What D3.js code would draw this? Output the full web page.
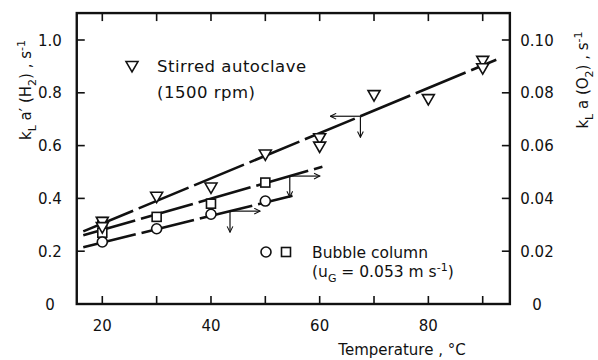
<!DOCTYPE html>
<html>
<head>
<meta charset="utf-8">
<script src="https://cdn.jsdelivr.net/npm/d3@7"></script>
<style>
  body { margin: 0; background: #fff; }
  svg text { font-family: "DejaVu Sans", sans-serif; fill: #111; }
</style>
</head>
<body>
<div id="chart"></div>
<script>
// stirred autoclave, kLa'(H2) in s^-1 (left axis)
const autoTemp = [20, 20, 30, 40, 50, 60, 60, 70, 80, 90, 90];
const autoKla = [0.315, 0.295, 0.41, 0.445, 0.57, 0.632, 0.60, 0.795, 0.78, 0.925, 0.897];
// bubble column, kLa(O2) in s^-1 (right axis)
const squareTemp = [20, 20, 30, 40, 50];
const squareKla = [0.031, 0.027, 0.033, 0.038, 0.046];
const circleTemp = [20, 30, 40, 50];
const circleKla = [0.0235, 0.0285, 0.034, 0.039];
// fitted lines (end points)
const autoFitTemp = [16.5, 92.5];
const autoFitKla = [0.275, 0.925];
const squareFitTemp = [16.5, 60.5];
const squareFitKla = [0.026, 0.052];
const circleFitTemp = [16.5, 55];
const circleFitKla = [0.0215, 0.041];
// ticks
const xTicks = [20, 30, 40, 50, 60, 70, 80, 90];
const xLabels = [20, 40, 60, 80];
const leftTicks = [0, 0.2, 0.4, 0.6, 0.8, 1.0];
const rightTicks = [0, 0.02, 0.04, 0.06, 0.08, 0.10];

var width = 598, height = 360;
var svg = d3.select("#chart").append("svg")
    .attr("width", width)
    .attr("height", height);

var x = d3.scaleLinear().domain([20, 90]).range([102.3, 482.7]);
var yL = d3.scaleLinear().domain([0, 1]).range([304, 40]);
var yR = d3.scaleLinear().domain([0, 0.1]).range([304, 40]);

var frameL = x(15.3), frameR = x(95), frameT = yL(1.102), frameB = yL(0);

// arrow head
svg.append("defs").append("marker")
    .attr("id", "head")
    .attr("viewBox", "0 0 10 10")
    .attr("refX", 9).attr("refY", 5)
    .attr("markerWidth", 6).attr("markerHeight", 6)
    .attr("orient", "auto")
    .append("path")
    .attr("d", "M1,1 L9,5 L1,9")
    .attr("fill", "none")
    .attr("stroke", "#111")
    .attr("stroke-width", 1.5);

// frame
svg.append("rect")
    .attr("x", frameL).attr("y", frameT)
    .attr("width", frameR - frameL).attr("height", frameB - frameT)
    .attr("fill", "none").attr("stroke", "#111").attr("stroke-width", 2.4);

var tickLen = 8;
var g = svg.append("g").attr("stroke", "#111").attr("stroke-width", 1.6);
xTicks.forEach(function(t) {
    g.append("line").attr("x1", x(t)).attr("x2", x(t)).attr("y1", frameB).attr("y2", frameB - tickLen);
    g.append("line").attr("x1", x(t)).attr("x2", x(t)).attr("y1", frameT).attr("y2", frameT + tickLen);
});
leftTicks.forEach(function(t) {
    g.append("line").attr("x1", frameL).attr("x2", frameL + tickLen).attr("y1", yL(t)).attr("y2", yL(t));
});
rightTicks.forEach(function(t) {
    g.append("line").attr("x1", frameR).attr("x2", frameR - tickLen).attr("y1", yR(t)).attr("y2", yR(t));
});

svg.selectAll(".xl").data(xLabels).enter().append("text")
    .attr("x", d => x(d)).attr("y", 331)
    .attr("text-anchor", "middle").attr("font-size", 15)
    .text(d => d);
svg.selectAll(".yl").data(leftTicks).enter().append("text")
    .attr("x", 50).attr("y", d => yL(d) + 5.5)
    .attr("text-anchor", "middle").attr("font-size", 15)
    .text(d => d === 0 ? "0" : d.toFixed(1));
svg.selectAll(".yr").data(rightTicks).enter().append("text")
    .attr("x", 537).attr("y", d => yR(d) + 5.5)
    .attr("text-anchor", "middle").attr("font-size", 15)
    .text(d => d === 0 ? "0" : d.toFixed(2));

// axis titles
svg.append("text")
    .attr("x", 402).attr("y", 355)
    .attr("text-anchor", "middle").attr("font-size", 15)
    .text("Temperature , °C");

var lt = svg.append("text")
    .attr("transform", "translate(31,90) rotate(-90)")
    .attr("text-anchor", "middle").attr("font-size", 15);
lt.append("tspan").text("k");
lt.append("tspan").attr("dy", 5).attr("font-size", 11).text("L");
lt.append("tspan").attr("dy", -5).text(" a′ (H");
lt.append("tspan").attr("dy", 5).attr("font-size", 11).text("2");
lt.append("tspan").attr("dy", -5).text(") , s");
lt.append("tspan").attr("dy", -6).attr("font-size", 11).text("-1");

var rt = svg.append("text")
    .attr("transform", "translate(588,80) rotate(-90)")
    .attr("text-anchor", "middle").attr("font-size", 15);
rt.append("tspan").text("k");
rt.append("tspan").attr("dy", 5).attr("font-size", 11).text("L");
rt.append("tspan").attr("dy", -5).text(" a (O");
rt.append("tspan").attr("dy", 5).attr("font-size", 11).text("2");
rt.append("tspan").attr("dy", -5).text(") , s");
rt.append("tspan").attr("dy", -6).attr("font-size", 11).text("-1");

// fitted lines
var lineL = d3.line().x(d => x(d[0])).y(d => yL(d[1]));
var lineR = d3.line().x(d => x(d[0])).y(d => yR(d[1]));
function fitLine(gen, ts, vs) {
    svg.append("path")
        .attr("d", gen(d3.zip(ts, vs)))
        .attr("fill", "none").attr("stroke", "#111")
        .attr("stroke-width", 2.6)
        .attr("stroke-dasharray", "54,6");
}
fitLine(lineL, autoFitTemp, autoFitKla);
fitLine(lineR, squareFitTemp, squareFitKla);
fitLine(lineR, circleFitTemp, circleFitKla);

// arrows: from a point on each line, one toward its axis, one down to temperature
function arrows(tx, v, yScale, dir) {
    var px = x(tx), py = yScale(v);
    svg.append("line").attr("x1", px).attr("y1", py).attr("x2", px + dir * 30).attr("y2", py)
        .attr("stroke", "#111").attr("stroke-width", 1.2).attr("marker-end", "url(#head)");
    svg.append("line").attr("x1", px).attr("y1", py).attr("x2", px).attr("y2", py + 21)
        .attr("stroke", "#111").attr("stroke-width", 1.2).attr("marker-end", "url(#head)");
}
var slopeA = (autoFitKla[1] - autoFitKla[0]) / (autoFitTemp[1] - autoFitTemp[0]);
var slopeS = (squareFitKla[1] - squareFitKla[0]) / (squareFitTemp[1] - squareFitTemp[0]);
var slopeC = (circleFitKla[1] - circleFitKla[0]) / (circleFitTemp[1] - circleFitTemp[0]);
arrows(67.5, autoFitKla[0] + (67.5 - autoFitTemp[0]) * slopeA, yL, -1);
arrows(54.5, squareFitKla[0] + (54.5 - squareFitTemp[0]) * slopeS, yR, 1);
arrows(43.5, circleFitKla[0] + (43.5 - circleFitTemp[0]) * slopeC, yR, 1);

// markers
var tri = d3.symbol().type(d3.symbolTriangle).size(62);
function triangle(sel) {
    sel.attr("d", tri).attr("fill", "#fff").attr("stroke", "#111").attr("stroke-width", 1.6);
}
svg.selectAll(".sq").data(d3.zip(squareTemp, squareKla)).enter().append("rect")
    .attr("x", d => x(d[0]) - 4.5).attr("y", d => yR(d[1]) - 4.5)
    .attr("width", 9).attr("height", 9)
    .attr("fill", "#fff").attr("stroke", "#111").attr("stroke-width", 1.6);
svg.selectAll(".ci").data(d3.zip(circleTemp, circleKla)).enter().append("circle")
    .attr("cx", d => x(d[0])).attr("cy", d => yR(d[1])).attr("r", 5)
    .attr("fill", "#fff").attr("stroke", "#111").attr("stroke-width", 1.6);
svg.selectAll(".tr").data(d3.zip(autoTemp, autoKla)).enter().append("path")
    .attr("transform", d => `translate(${x(d[0])},${yL(d[1])}) rotate(180)`)
    .call(triangle);

// legends
svg.append("path").attr("transform", "translate(132,65) rotate(180)").call(triangle);
svg.append("text").attr("x", 157).attr("y", 72).attr("font-size", 16.5)
    .attr("letter-spacing", 0.5).text("Stirred  autoclave");
svg.append("text").attr("x", 157).attr("y", 98).attr("font-size", 16.5)
    .attr("letter-spacing", 0.5).text("(1500 rpm)");

svg.append("circle").attr("cx", 266).attr("cy", 252).attr("r", 5)
    .attr("fill", "#fff").attr("stroke", "#111").attr("stroke-width", 1.6);
svg.append("rect").attr("x", 281.5).attr("y", 247.5).attr("width", 9).attr("height", 9)
    .attr("fill", "#fff").attr("stroke", "#111").attr("stroke-width", 1.6);
svg.append("text").attr("x", 312).attr("y", 258).attr("font-size", 15.5).text("Bubble  column");
var ug = svg.append("text").attr("x", 312).attr("y", 277).attr("font-size", 15.5);
ug.append("tspan").text("(u");
ug.append("tspan").attr("dy", 5).attr("font-size", 11).text("G");
ug.append("tspan").attr("dy", -5).text(" = 0.053 m s");
ug.append("tspan").attr("dy", -6).attr("font-size", 11).text("-1");
ug.append("tspan").attr("dy", 6).text(")");
</script>
</body>
</html>
